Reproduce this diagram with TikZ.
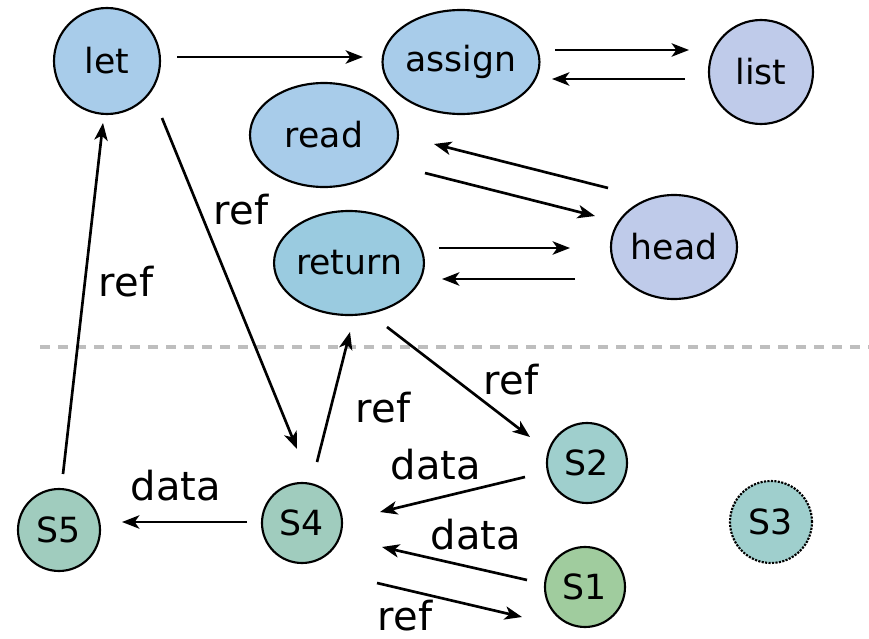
\documentclass[tikz,border=0pt]{standalone}
\usepackage{fontspec}
\setmainfont{DejaVu Sans}
\usepackage{tikz}
\usetikzlibrary{shapes.geometric,arrows.meta,calc}

\definecolor{blueop}{HTML}{A8CCEA}
\definecolor{blueret}{HTML}{9ACBE0}
\definecolor{lilac}{HTML}{BFCBEA}
\definecolor{tealstore}{HTML}{A0CCBE}
\definecolor{cyanstore}{HTML}{9FCFCD}
\definecolor{greenstore}{HTML}{A0CC9E}

\begin{document}
\begin{tikzpicture}[x=0.75pt,y=0.75pt,yscale=-1,xscale=1,
  circ/.style={circle,draw,line width=1.6pt,inner sep=0pt,font=\fontsize{26}{30}\selectfont},
  ell/.style={ellipse,draw,line width=1.6pt,inner sep=0pt,font=\fontsize{26}{30}\selectfont},
  arr/.style={line width=2pt,-{Stealth[length=13pt,width=10pt,inset=3.5pt]}},
  lbl/.style={inner sep=0pt,font=\fontsize{30}{36}\selectfont}]
\useasboundingbox (0,0) rectangle (869,639);

%Dashed line
\draw [color={rgb,255:red,190;green,190;blue,190},line width=2.6pt,dash pattern=on 7.5pt off 6pt] (40,347) -- (869,347) ;

% Nodes
\node [circ,fill=blueop,minimum size=79.5pt] (let) at (107,61) {let};
\node [ell,fill=blueop,minimum width=112.5pt,minimum height=78pt] (assign) at (461,62) {assign};
\node [circ,fill=lilac,minimum size=78pt] (list) at (761,72) {list};
\node [ell,fill=blueop,minimum width=111pt,minimum height=78pt] (read) at (324,135) {read};
\node [ell,fill=blueret,minimum width=111pt,minimum height=78pt] (return) at (349,263) {return};
\node [ell,fill=lilac,minimum width=94.5pt,minimum height=78pt] (head) at (674,247) {head};
\node [circ,fill=tealstore,minimum size=61.5pt] (s5) at (59,530) {S5};
\node [circ,fill=tealstore,minimum size=60pt] (s4) at (302,523) {S4};
\node [circ,fill=cyanstore,minimum size=60pt] (s2) at (587,463) {S2};
\node [circ,fill=greenstore,minimum size=60pt] (s1) at (585,587) {S1};
\node [circ,fill=cyanstore,minimum size=61.5pt,densely dotted] (s3) at (771,522) {S3};

%Straight Lines
\draw [arr] ($(let)+(70,-4)$) -- ($(assign)+(-98,-5)$) ;
\draw [arr] ($(assign)+(94,-12)$) -- ($(list)+(-72,-22)$) ;
\draw [arr] ($(list)+(-76,7)$) -- ($(assign)+(91,17)$) ;
\draw [arr] ($(head)+(-66,-59)$) -- ($(read)+(110,9)$) ;
\draw [arr] ($(read)+(101,38)$) -- ($(head)+(-79,-31)$) ;
\draw [arr] ($(return)+(90,-15)$) -- ($(head)+(-104,1)$) ;
\draw [arr] ($(head)+(-99,32)$) -- ($(return)+(93,16)$) ;
\draw [arr] ($(let)+(55,57)$) -- ($(s4)+(-5,-74)$) ;
\draw [arr] ($(s4)+(15,-61)$) -- ($(return)+(1,69)$) ;
\draw [arr] ($(s5)+(4,-56)$) -- ($(let)+(-4,62)$) ;
\draw [arr] ($(return)+(38,64)$) -- ($(s2)+(-57,-26)$) ;
\draw [arr] ($(s2)+(-62,14)$) -- ($(s4)+(78,-11)$) ;
\draw [arr] ($(s1)+(-58,-7)$) -- ($(s4)+(80,24)$) ;
\draw [arr] ($(s4)+(75,60)$) -- ($(s1)+(-63,30)$) ;
\draw [arr] ($(s4)+(-55,-1)$) -- ($(s5)+(63,-8)$) ;

% Text Node
\node [lbl] (r1) at (241,210) {ref};
\node [lbl] (r2) at (126,282) {ref};
\node [lbl] (r3) at (383,408) {ref};
\node [lbl] (r4) at (511,380) {ref};
\node [lbl] (r5) at (405,616) {ref};
\node [lbl] (d1) at (436,465) {data};
\node [lbl] (d2) at (176,486) {data};
\node [lbl] (d3) at (476,535) {data};

\end{tikzpicture}
\end{document}
